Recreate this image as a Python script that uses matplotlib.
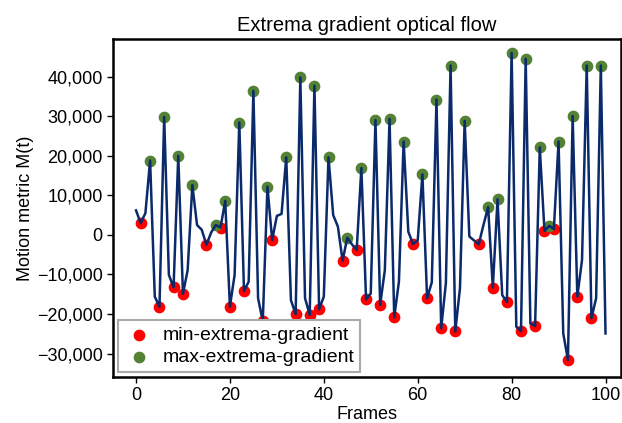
import numpy as np
import matplotlib
matplotlib.use("Agg")
import matplotlib.pyplot as plt
from matplotlib.ticker import FuncFormatter

plt.rcParams['font.family'] = ['Liberation Sans', 'DejaVu Sans']

# motion metric per frame
motion = [
    6200, 3000, 5500, 18800, -15600, -18150, 29800, -10100, -13250, 20000,
    -14900, -8900, 12600, 2500, 1300, -2500, 600, 2500, 1850, 8600,
    -18150, -10100, 28400, -14200, -11800, 36400, -16000, -21800, 12200, -1300,
    4800, 5300, 19600, -16500, -20000, 39800, -16000, -20200, 37700, -18800,
    -15600, 19600, 5000, 2100, -6500, -700, -2400, -3800, 16900, -16300,
    -14800, 29000, -17700, -8900, 29300, -20800, -11800, 23600, 800, -2300,
    -1400, 15300, -16000, -12000, 34200, -23600, -12200, 42800, -24400, -13500,
    28800, -400, -1400, -2400, 2500, 7000, -13300, 9000, -15200, -16900,
    46000, -23200, -24300, 44500, -22400, -23000, 22100, 1000, 2300, 1500,
    23600, -24900, -31600, 30000, -15600, -6300, 42800, -21100, -16000, 42800,
    -24900,
]
frames = list(range(len(motion)))

min_frames = [1, 5, 8, 10, 15, 18, 20, 23, 27, 29, 34, 37, 39, 44, 47, 49, 52, 55,
              59, 62, 65, 68, 73, 76, 79, 82, 85, 87, 89, 92, 94, 97]
max_frames = [3, 6, 9, 12, 17, 19, 22, 25, 28, 32, 35, 38, 41, 45, 48, 51, 54, 57,
              61, 64, 67, 70, 75, 77, 80, 83, 86, 88, 90, 93, 96, 99]

fig = plt.figure(figsize=(6.22, 4.23), dpi=100)
ax = fig.add_axes([113 / 622, 1 - 377 / 423, 508 / 622, 338 / 423])

ax.scatter(min_frames, [motion[i] for i in min_frames], color="red", s=55,
           label="min-extrema-gradient", zorder=1)
ax.scatter(max_frames, [motion[i] for i in max_frames], color="#548235", s=55,
           label="max-extrema-gradient", zorder=1)
ax.plot(frames, motion, color="#0a2a6b", linewidth=1.8, zorder=2)

ax.set_xlim(-4.9, 103.3)
ax.set_ylim(-35900, 49500)
ax.set_xticks([0, 20, 40, 60, 80, 100])
ax.set_yticks(np.arange(-30000, 40001, 10000))
ax.yaxis.set_major_formatter(FuncFormatter(lambda v, p: f"{v:,.0f}".replace("-", "\u2212")))

for sp in ax.spines.values():
    sp.set_linewidth(1.8)
ax.tick_params(labelsize=13, length=4, width=1)

ax.set_title("Extrema gradient optical flow", fontsize=14.5, pad=6)
ax.set_xlabel("Frames", fontsize=13, labelpad=1)
ax.set_ylabel("Motion metric M(t)", fontsize=13, labelpad=2)

leg = ax.legend(loc="lower left", fontsize=14, fancybox=False, edgecolor="#aaaaaa",
                framealpha=1, handletextpad=0.4, borderaxespad=0.25, borderpad=0.3,
                labelspacing=0.25, handlelength=1.6)
leg.get_frame().set_linewidth(1.5)

fig.savefig("out.png", dpi=100)
